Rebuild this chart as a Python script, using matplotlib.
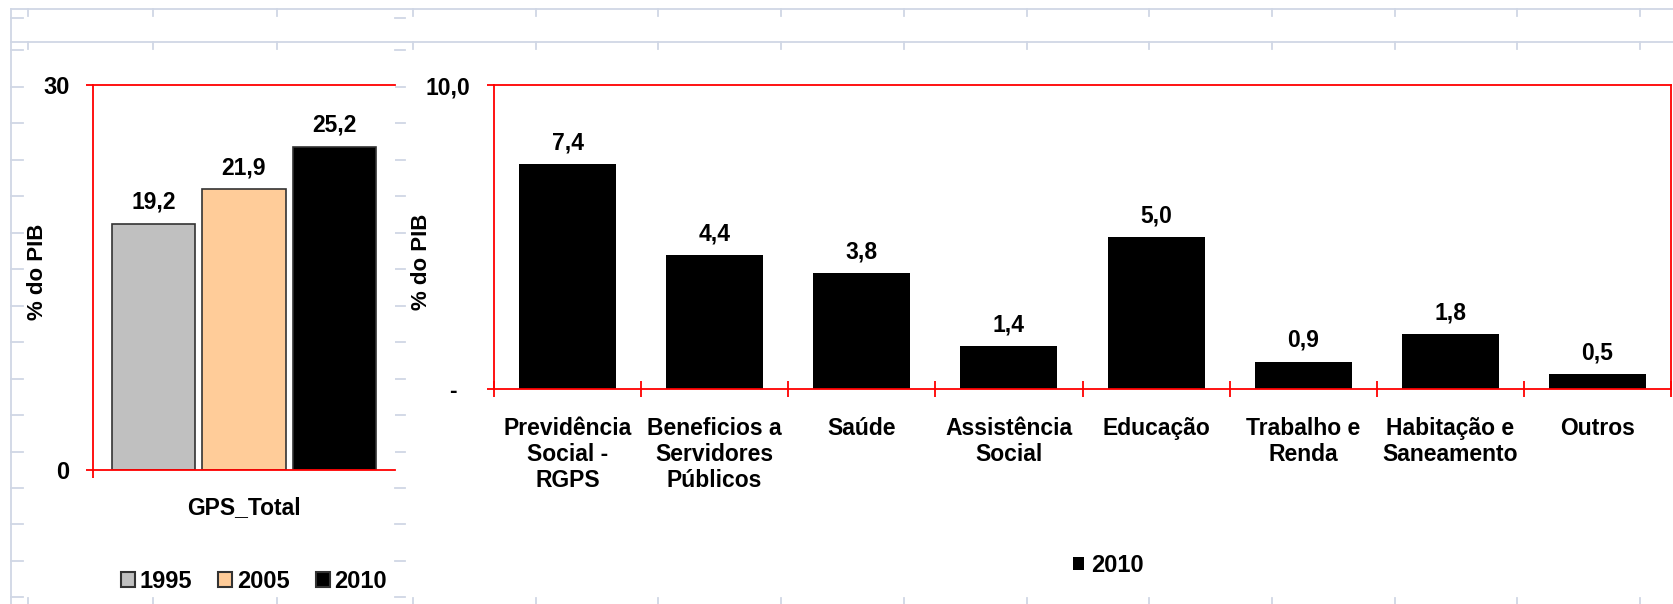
import matplotlib
matplotlib.use('Agg')
import matplotlib.pyplot as plt
from matplotlib.lines import Line2D
from matplotlib.patches import Patch
import numpy as np

plt.rcParams['font.family'] = ['Liberation Sans', 'DejaVu Sans']
plt.rcParams['font.weight'] = 'bold'
plt.rcParams['axes.labelweight'] = 'bold'

# dados
anos = ['1995', '2005', '2010']
gps_total = [19.2, 21.9, 25.2]
cores_anos = ['#c0c0c0', '#ffcc99', '#000000']

areas = ['Previdência\nSocial -\nRGPS', 'Beneficios a\nServidores\nPúblicos', 'Saúde',
         'Assistência\nSocial', 'Educação', 'Trabalho e\nRenda',
         'Habitação e\nSaneamento', 'Outros']
gasto_2010 = [7.4, 4.4, 3.8, 1.4, 5.0, 0.9, 1.8, 0.5]

W, H = 1673, 604
fig = plt.figure(figsize=(W / 100, H / 100), dpi=100)
vermelho = '#ff0000'
grade = '#d0d7e5'
fonte_legenda = {'weight': 'bold', 'size': 17}


def linha(x0, y0, x1, y1):
    # linhas da planilha ao fundo, em pixels
    fig.add_artist(Line2D([x0 / W, x1 / W], [1 - y0 / H, 1 - y1 / H],
                          color=grade, lw=1.3, zorder=0))


for y in [9, 42]:
    linha(11, y, W, y)
linha(11, 9, 11, H)
colunas = [28, 153, 277] + [413 + 122.7 * k for k in range(11)]
for x in colunas:
    linha(x, 9, x, 16)
    linha(x, 42, x, 49)
    linha(x, 598, x, H)
for y in [18, 50] + [87 + 36.45 * k for k in range(15)]:
    linha(11, y, 23, y)
    linha(395, y, 405, y)


def rotulo(v):
    return f'{v:.1f}'.replace('.', ',')


# grafico da esquerda - GPS total
ax1 = fig.add_axes([93 / W, 1 - 470 / H, 302 / W, 385 / H])
pos = (np.arange(len(anos)) - 1) * 0.3
ax1.bar(pos, gps_total, width=0.277, color=cores_anos, edgecolor='#333333', lw=1.2)
for x, v in zip(pos, gps_total):
    ax1.annotate(rotulo(v), (x, v), xytext=(0, 7), textcoords='offset points',
                 ha='center', va='bottom', fontsize=16.5)
ax1.set_xlim(-0.5, 0.5)
ax1.set_ylim(0, 30)
ax1.spines['right'].set_visible(False)
for s in ['left', 'top', 'bottom']:
    ax1.spines[s].set_color(vermelho)
    ax1.spines[s].set_linewidth(1.3)
ax1.set_yticks([0, 30])
ax1.set_yticklabels(['0', '30'])
ax1.tick_params(axis='y', colors=vermelho, labelcolor='black', length=5, width=1.3,
                labelsize=17, pad=12)
ax1.set_xticks([0])
ax1.set_xticklabels(['GPS_Total'])
ax1.tick_params(axis='x', which='major', length=0, labelsize=16.5, pad=19)
ax1.set_xticks([-0.5], minor=True)
ax1.tick_params(axis='x', which='minor', colors=vermelho, direction='out', length=6, width=1.3)
ax1.set_ylabel('% do PIB', fontsize=16)
ax1.yaxis.set_label_coords(-0.149, 0.514)

ax1.legend(handles=[Patch(facecolor=c, edgecolor='#333333', lw=1.5, label=a)
                    for a, c in zip(anos, cores_anos)],
           loc='center', bbox_to_anchor=(254 / W, 1 - 581 / H), bbox_transform=fig.transFigure,
           ncol=3, frameon=False, prop=fonte_legenda, handlelength=0.6, handleheight=0.6,
           handletextpad=0.2, columnspacing=1.1)

# grafico da direita - areas em 2010
ax2 = fig.add_axes([494 / W, 1 - 389 / H, 1177 / W, 304 / H])
xs = np.arange(len(areas))
ax2.bar(xs, gasto_2010, width=0.66, color='black', label='2010')
for x, v in zip(xs, gasto_2010):
    ax2.annotate(rotulo(v), (x, v), xytext=(0, 7), textcoords='offset points',
                 ha='center', va='bottom', fontsize=16.5)
ax2.set_xlim(-0.5, len(areas) - 0.5)
ax2.set_ylim(0, 10)
for s in ax2.spines.values():
    s.set_color(vermelho)
    s.set_linewidth(1.3)
ax2.set_yticks([0, 10])
ax2.set_yticklabels(['-  ', '10,0'])
ax2.tick_params(axis='y', colors=vermelho, labelcolor='black', length=5, width=1.3,
                labelsize=16.5, pad=12)
ax2.set_xticks(xs)
ax2.set_xticklabels(areas, linespacing=1.16)
ax2.tick_params(axis='x', which='major', length=0, labelsize=16.5, pad=20)
ax2.set_xticks(np.arange(-0.5, len(areas), 1), minor=True)
ax2.tick_params(axis='x', which='minor', colors=vermelho, direction='inout', length=12, width=1.3)
ax2.set_ylabel('% do PIB', fontsize=16)
ax2.yaxis.set_label_coords(-0.0527, 0.42)

ax2.legend(loc='center', bbox_to_anchor=(1108 / W, 1 - 565 / H), bbox_transform=fig.transFigure,
           frameon=False, prop=fonte_legenda, handlelength=0.47, handleheight=0.47,
           handletextpad=0.3)

fig.savefig('out.png', dpi=100)
